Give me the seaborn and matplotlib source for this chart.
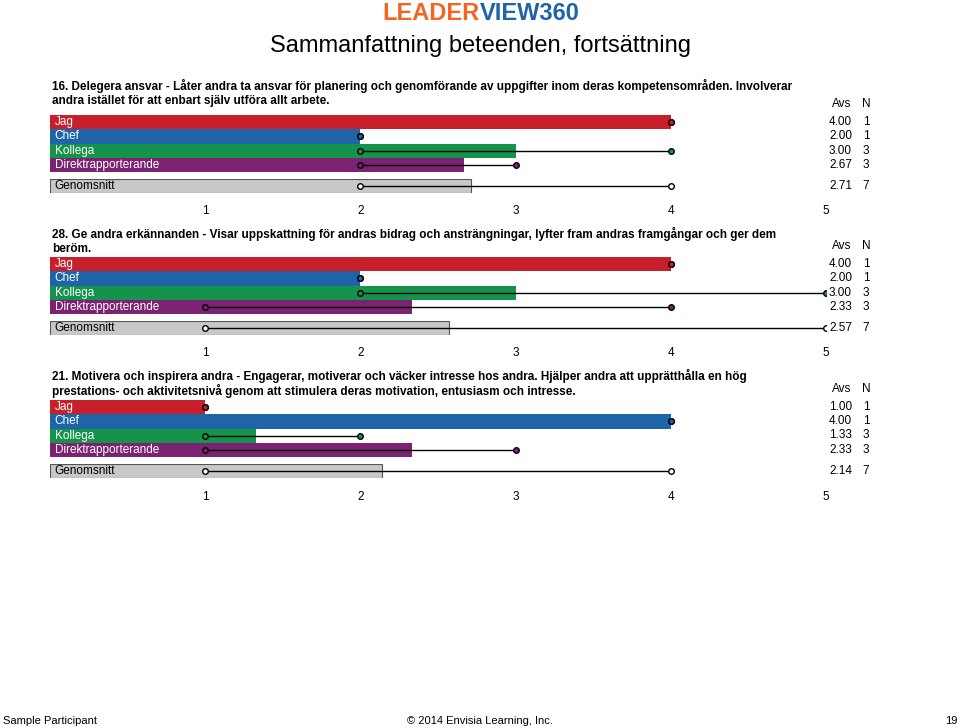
import matplotlib
matplotlib.use("Agg")
import matplotlib.pyplot as plt
import seaborn as sns
import pandas as pd

plt.rcParams["font.family"] = "Liberation Sans"

groups = ["Jag", "Chef", "Kollega", "Direktrapporterande"]
colors = ["#C8202A", "#1F63A8", "#15934A", "#7B2272"]
gray = "#C8C8C8"

titles = [
    ["16. Delegera ansvar - Låter andra ta ansvar för planering och genomförande av uppgifter inom deras kompetensområden. Involverar",
     "andra istället för att enbart själv utföra allt arbete."],
    ["28. Ge andra erkännanden - Visar uppskattning för andras bidrag och ansträngningar, lyfter fram andras framgångar och ger dem",
     "beröm."],
    ["21. Motivera och inspirera andra - Engagerar, motiverar och väcker intresse hos andra. Hjälper andra att upprätthålla en hög",
     "prestations- och aktivitetsnivå genom att stimulera deras motivation, entusiasm och intresse."],
]
avgs = [[4.00, 2.00, 3.00, 2.67], [4.00, 2.00, 3.00, 2.33], [1.00, 4.00, 1.33, 2.33]]
mins = [[4, 2, 2, 2], [4, 2, 2, 1], [1, 4, 1, 1]]
maxs = [[4, 2, 4, 3], [4, 2, 5, 4], [1, 4, 2, 3]]
ns = [[1, 1, 3, 3], [1, 1, 3, 3], [1, 1, 3, 3]]
gen_avg = [2.71, 2.57, 2.14]
gen_min = [2, 1, 1]
gen_max = [4, 5, 4]
gen_n = [7, 7, 7]
ticks = [1, 2, 3, 4, 5]

W, H = 960, 728
fig = plt.figure(figsize=(9.6, 7.28), dpi=100)

def ax_px(x0, y0, x1, y1):
    return fig.add_axes([x0 / W, 1 - y1 / H, (x1 - x0) / W, (y1 - y0) / H])

fig.text(0.5, 1 - 14 / H, "LEADER", color="#F26522", fontsize=17, fontweight="bold", ha="right", va="center")
fig.text(0.5, 1 - 14 / H, "VIEW360", color="#1F63A8", fontsize=17, fontweight="bold", ha="left", va="center")
fig.text(0.5, 1 - 46 / H, "Sammanfattning beteenden, fortsättning", fontsize=17, ha="center", va="center")
fig.text(3 / W, 1 - 721 / H, "Sample Participant", fontsize=8, va="center")
fig.text(0.5, 1 - 721 / H, "© 2014 Envisia Learning, Inc.", fontsize=8, va="center", ha="center")
fig.text(957 / W, 1 - 721 / H, "19", fontsize=8, va="center", ha="right")

X0, X1 = 50, 826
tops = [115, 257, 400]
title_y = [86, 234, 376]

for p in range(3):
    t = tops[p]
    for k, line in enumerate(titles[p]):
        fig.text(52 / W, 1 - (title_y[p] + 15 * k) / H, line, fontsize=8.5, fontweight="bold", va="center")
    ty = t - 11
    fig.text(842 / W, 1 - ty / H, "Avs", fontsize=8.5, ha="center", va="center")
    fig.text(866 / W, 1 - ty / H, "N", fontsize=8.5, ha="center", va="center")
    ax = ax_px(X0, t, X1, t + 57)
    df = pd.DataFrame({"g": groups, "v": avgs[p]})
    sns.barplot(data=df, x="v", y="g", hue="g", palette=colors, width=1.0, ax=ax, legend=False, saturation=1)
    for i in range(4):
        ax.plot([mins[p][i], maxs[p][i]], [i, i], color="black", lw=1, zorder=3)
        ax.plot([mins[p][i], maxs[p][i]], [i, i], "o", mfc=colors[i], mec="black", ms=4, zorder=4)
        ax.text(0.03, i, groups[i], color="white", fontsize=8.5, va="center")
        yy = t + 7 + 14.25 * i
        fig.text(852 / W, 1 - yy / H, f"{avgs[p][i]:.2f}", fontsize=8.5, ha="right", va="center")
        fig.text(866 / W, 1 - yy / H, str(ns[p][i]), fontsize=8.5, ha="center", va="center")
    ax.set_xlim(0, 5)
    ax.set_ylim(3.5, -0.5)
    ax.axis("off")

    g0 = t + 64
    ax2 = ax_px(X0, g0, X1, g0 + 14)
    dg = pd.DataFrame({"g": ["Genomsnitt"], "v": [gen_avg[p]]})
    sns.barplot(data=dg, x="v", y="g", color=gray, width=1.0, ax=ax2, edgecolor="#555555", linewidth=0.8, saturation=1)
    ax2.plot([gen_min[p], gen_max[p]], [0, 0], color="black", lw=1, zorder=3)
    ax2.plot([gen_min[p], gen_max[p]], [0, 0], "o", mfc="white", mec="black", ms=4, zorder=4)
    ax2.text(0.03, 0, "Genomsnitt", color="black", fontsize=8.5, va="center")
    ax2.set_xlim(0, 5)
    ax2.set_ylim(0.5, -0.5)
    ax2.set_xticks(ticks)
    ax2.set_xticklabels([str(v) for v in ticks], fontsize=8.5)
    ax2.tick_params(axis="x", length=0, pad=9)
    ax2.set_yticks([])
    ax2.set_xlabel("")
    ax2.set_ylabel("")
    for s in ax2.spines.values():
        s.set_visible(False)
    fig.text(852 / W, 1 - (g0 + 7) / H, f"{gen_avg[p]:.2f}", fontsize=8.5, ha="right", va="center")
    fig.text(866 / W, 1 - (g0 + 7) / H, str(gen_n[p]), fontsize=8.5, ha="center", va="center")

fig.savefig("out.png", dpi=100)
